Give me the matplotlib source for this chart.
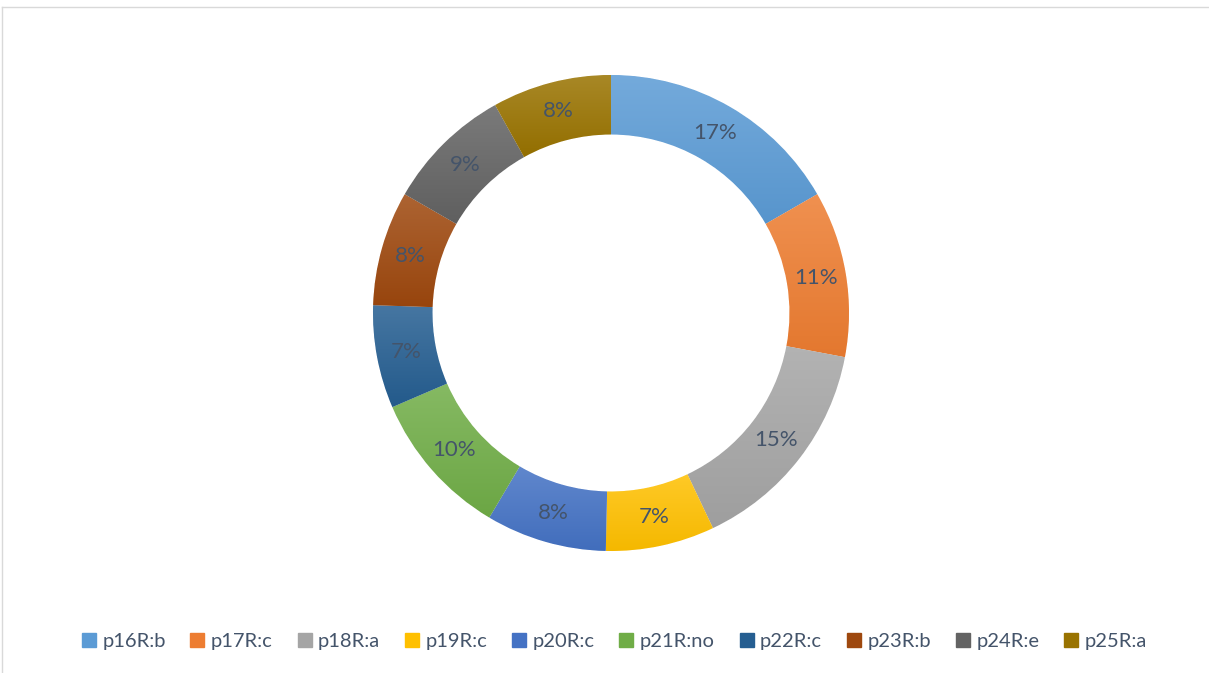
import matplotlib
matplotlib.use("Agg")
import matplotlib.pyplot as plt
import numpy as np
from matplotlib.colors import to_rgb
from matplotlib.lines import Line2D

categories = ["p16R:b", "p17R:c", "p18R:a", "p19R:c", "p20R:c",
              "p21R:no", "p22R:c", "p23R:b", "p24R:e", "p25R:a"]
values = [16.7, 11.3, 15.0, 7.4, 8.2, 10.0, 7.0, 7.8, 8.6, 8.1]
colors = ["#5B9BD5", "#ED7D31", "#A5A5A5", "#FFC000", "#4472C4",
          "#70AD47", "#255E91", "#9E480E", "#636363", "#997300"]

plt.rcParams['font.family'] = ['Lato', 'DejaVu Sans']

W, H = 1209, 673
fig = plt.figure(figsize=(W / 100, H / 100), dpi=100)
fig.patch.set_facecolor("white")

cx, cy, R = 611, 313, 238
ax = fig.add_axes([(cx - R) / W, (H - cy - R) / H, 2 * R / W, 2 * R / H])

wedges, texts, autotexts = ax.pie(
    values, colors=colors, startangle=90, counterclock=False,
    radius=1.0, wedgeprops=dict(width=0.25, edgecolor="white", linewidth=0.6),
    autopct="%.0f%%", pctdistance=0.875,
    textprops=dict(color="#44546A", fontsize=16))
ax.set_xlim(-1, 1)
ax.set_ylim(-1, 1)
ax.set_aspect("equal")
ax.axis("off")

# vertical gradient fill per wedge
def mix(c, t, a):
    c = np.array(to_rgb(c)); t = np.array(t)
    return c * (1 - a) + t * a

inv = ax.transData.inverted()
for w, col in zip(wedges, colors):
    ext = w.get_extents()
    (x0, y0), (x1, y1) = inv.transform([(ext.x0, ext.y0), (ext.x1, ext.y1)])
    top = mix(col, (1, 1, 1), 0.15)
    bot = mix(col, (0, 0, 0), 0.04)
    n = 64
    t = np.linspace(0, 1, n)[:, None]
    grad = top[None, :] * (1 - t) + bot[None, :] * t
    img = np.repeat(grad[:, None, :], 2, axis=1)
    im = ax.imshow(img, extent=(x0, x1, y0, y1), origin="upper",
                   aspect="auto", zorder=w.get_zorder() + 0.1,
                   interpolation="bilinear")
    im.set_clip_path(w)
for t_ in autotexts:
    t_.set_zorder(10)
ax.set_xlim(-1, 1)
ax.set_ylim(-1, 1)

handles = [Line2D([0], [0], marker="s", linestyle="none", markersize=9.5,
                  markerfacecolor=c, markeredgecolor=c) for c in colors]
leg = fig.legend(handles, categories, loc="center", ncol=10,
                 bbox_to_anchor=(614 / W, 1 - 641 / H), frameon=False,
                 handlelength=0.75, handletextpad=0.3, columnspacing=1.2,
                 fontsize=14.5)
for txt in leg.get_texts():
    txt.set_color("#44546A")

# chart border
fig.add_artist(Line2D([1.5 / W, 1.5 / W], [0, 1 - 7 / H], transform=fig.transFigure,
                      color="#D9D9D9", linewidth=1))
fig.add_artist(Line2D([1.5 / W, 1], [1 - 7 / H, 1 - 7 / H], transform=fig.transFigure,
                      color="#D9D9D9", linewidth=1))

fig.savefig("out.png", dpi=100, facecolor="white")
